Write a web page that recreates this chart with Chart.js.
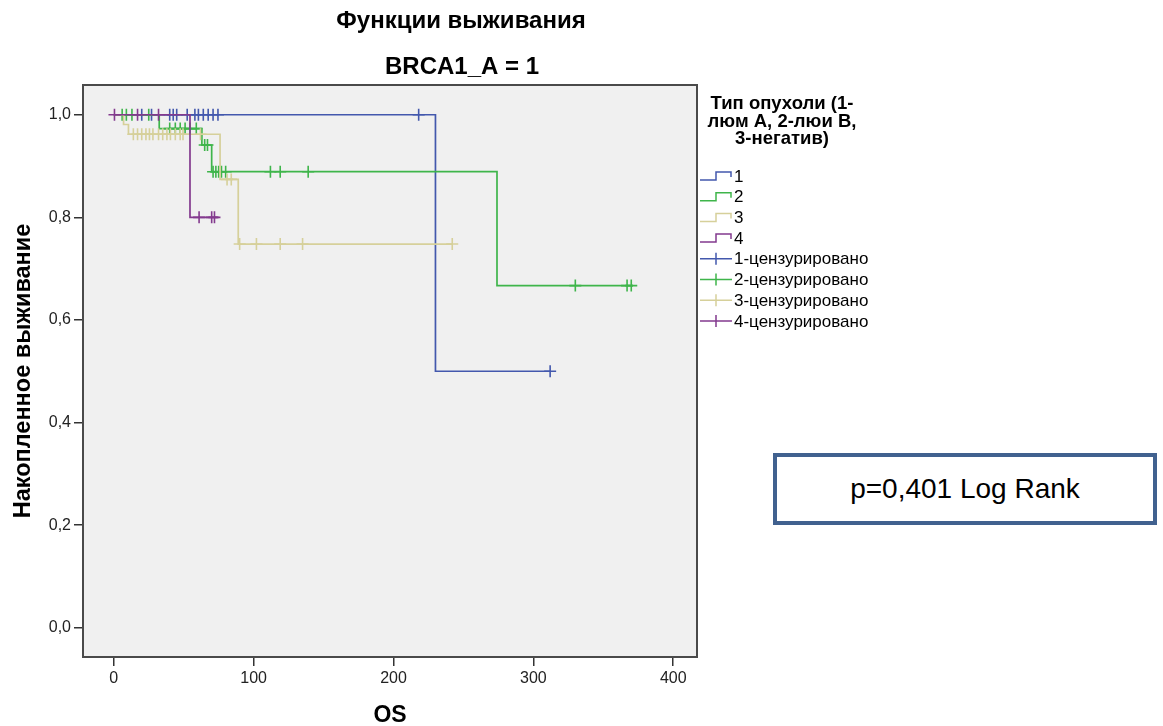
<!DOCTYPE html>
<html>
<head>
<meta charset="utf-8">
<script src="https://cdn.jsdelivr.net/npm/chart.js@4.4.0/dist/chart.umd.min.js"></script>
<style>
  body { margin: 0; background: #fff; }
  #wrap { position: relative; width: 1163px; height: 726px; }
  #pbox {
    position: absolute; left: 773px; top: 453px; width: 376px; height: 64px;
    border: 4px solid #41618f; background: #fff;
    font: 28px "Liberation Sans", Arial, sans-serif; color: #000;
    display: flex; align-items: center; justify-content: center;
  }
</style>
</head>
<body>
<div id="wrap">
  <canvas id="km" width="1163" height="726"></canvas>
  <div id="pbox">p=0,401 Log Rank</div>
</div>
<script>
const FONT = '"Liberation Sans", Arial, sans-serif';

// axis ticks
const xTicks = [0, 100, 200, 300, 400];
const yTicks = [0, 0.2, 0.4, 0.6, 0.8, 1.0];

// group names
const groups = ['1', '2', '3', '4'];
const colors = ['#4358ad', '#3fb54b', '#d6d09a', '#833a8e'];

// Kaplan-Meier steps: event times and survival after each event, plus last follow-up
const g1Events = [230];
const g1Surv = [0.5];
const g1Last = 312;
const g1Censor = [20, 27, 40, 42.5, 45, 52.5, 58, 60.5, 64, 67.5, 71, 74.5, 218, 312];

const g2Events = [32.5, 63, 70, 274];
const g2Surv = [0.973, 0.941, 0.889, 0.667];
const g2Last = 371;
const g2Censor = [6, 9, 13, 25, 40, 44, 47.5, 51, 54.5, 59, 65, 67, 71, 73, 75, 77, 80, 112, 119, 139, 330, 367, 370];

const g3Events = [7, 10.5, 76, 89];
const g3Surv = [0.981, 0.962, 0.874, 0.748];
const g3Last = 242;
const g3Censor = [14, 17, 20, 23, 25.5, 28, 32, 35, 38, 40.5, 44, 47.5, 49.5, 62, 81, 84, 90, 102, 119, 135, 242];

const g4Events = [54.5];
const g4Surv = [0.8];
const g4Last = 75;
const g4Censor = [0.5, 17, 32, 61, 70, 72];

function stepPoints(events, surv, last) {
  const pts = [{x: 0, y: 1}];
  events.forEach((t, i) => pts.push({x: t, y: surv[i]}));
  pts.push({x: last, y: surv[surv.length - 1]});
  return pts;
}

function survivalAt(events, surv, t) {
  let s = 1;
  events.forEach((e, i) => { if (e <= t) s = surv[i]; });
  return s;
}

function censorPoints(events, surv, times) {
  return times.map(t => ({x: t, y: survivalAt(events, surv, t)}));
}

const curves = [
  stepPoints(g1Events, g1Surv, g1Last),
  stepPoints(g2Events, g2Surv, g2Last),
  stepPoints(g3Events, g3Surv, g3Last),
  stepPoints(g4Events, g4Surv, g4Last)
];
const censors = [
  censorPoints(g1Events, g1Surv, g1Censor),
  censorPoints(g2Events, g2Surv, g2Censor),
  censorPoints(g3Events, g3Surv, g3Censor),
  censorPoints(g4Events, g4Surv, g4Censor)
];

const datasets = [];
groups.forEach((g, i) => {
  datasets.push({
    type: 'line', label: g, data: curves[i], stepped: true,
    borderColor: colors[i], borderWidth: 1.7, pointRadius: 0, fill: false,
    order: 10 - i * 2
  });
  datasets.push({
    type: 'scatter', label: g + '-цензурировано', data: censors[i],
    pointStyle: 'cross', pointRadius: 6, borderColor: colors[i], borderWidth: 1.6,
    backgroundColor: colors[i], order: 9 - i * 2
  });
});

// grey plot frame
const frame = {
  id: 'frame',
  beforeDraw(chart) {
    const {ctx, chartArea: a} = chart;
    ctx.save();
    ctx.fillStyle = '#f0f0f0';
    ctx.fillRect(a.left, a.top, a.right - a.left, a.bottom - a.top);
    ctx.restore();
  },
  afterDraw(chart) {
    const {ctx, chartArea: a} = chart;
    ctx.save();
    ctx.strokeStyle = '#4a4a4a';
    ctx.lineWidth = 2;
    ctx.strokeRect(a.left, a.top, a.right - a.left, a.bottom - a.top);
    ctx.restore();
  }
};

// headings above the plot
const headings = {
  id: 'headings',
  afterDraw(chart) {
    const ctx = chart.ctx;
    ctx.save();
    ctx.fillStyle = '#000';
    ctx.textAlign = 'center';
    ctx.textBaseline = 'middle';
    ctx.font = 'bold 24px ' + FONT;
    ctx.fillText('Функции выживания', 461, 21);
    ctx.fillText('BRCA1_A = 1', 462, 67);
    ctx.restore();
  }
};

// legend with step and censor symbols
const kmLegend = {
  id: 'kmLegend',
  afterDraw(chart) {
    const ctx = chart.ctx;
    ctx.save();
    ctx.fillStyle = '#000';
    ctx.textAlign = 'center';
    ctx.textBaseline = 'middle';
    ctx.font = 'bold 18.5px ' + FONT;
    ['Тип опухоли (1-', 'люм А, 2-люи В,', '3-негатив)'].forEach((line, i) => {
      ctx.fillText(line, 782, 104 + i * 17.7);
    });
    ctx.font = '17px ' + FONT;
    ctx.textAlign = 'left';
    const x0 = 700;
    chart.data.datasets
      .map((d, i) => ({d, i}))
      .sort((a, b) => (a.d.type === 'line' ? 0 : 1) - (b.d.type === 'line' ? 0 : 1) || a.i - b.i)
      .forEach(({d}, k) => {
        const y = 176 + k * 20.7;
        ctx.strokeStyle = d.borderColor;
        ctx.lineWidth = 1.5;
        ctx.beginPath();
        if (d.type === 'line') {
          ctx.moveTo(x0, y + 4);
          ctx.lineTo(x0 + 16, y + 4);
          ctx.lineTo(x0 + 16, y - 4);
          ctx.lineTo(x0 + 31, y - 4);
          ctx.lineTo(x0 + 31, y + 1);
        } else {
          ctx.moveTo(x0, y);
          ctx.lineTo(x0 + 32, y);
          ctx.moveTo(x0 + 16, y - 6);
          ctx.lineTo(x0 + 16, y + 6);
        }
        ctx.stroke();
        ctx.fillStyle = '#000';
        ctx.fillText(d.label, x0 + 34, y + 1);
      });
    ctx.restore();
  }
};

new Chart(document.getElementById('km'), {
  data: {datasets},
  options: {
    responsive: false,
    animation: false,
    layout: {padding: {top: 85, right: 466, bottom: 0, left: 0}},
    plugins: {legend: {display: false}, tooltip: {enabled: false}},
    scales: {
      x: {
        type: 'linear', min: -22, max: 417,
        afterBuildTicks: s => { s.ticks = xTicks.map(v => ({value: v})); },
        afterFit: s => { s.height = 69; },
        ticks: {font: {family: FONT, size: 16}, color: '#222', padding: 3, maxRotation: 0},
        grid: {drawOnChartArea: false, drawTicks: true, tickLength: 9, color: '#333', lineWidth: 1.5},
        border: {display: false},
        title: {display: true, text: 'OS', color: '#000', font: {family: FONT, size: 23, weight: 'bold', lineHeight: 0.9}, padding: {top: 0, bottom: 0}}
      },
      y: {
        type: 'linear', min: -0.057, max: 1.058,
        afterBuildTicks: s => { s.ticks = yTicks.map(v => ({value: v})); },
        afterFit: s => { s.width = 83; },
        ticks: {font: {family: FONT, size: 16}, color: '#222', padding: 3, callback: v => v.toFixed(1).replace('.', ',')},
        grid: {drawOnChartArea: false, drawTicks: true, tickLength: 9, color: '#333', lineWidth: 1.5},
        border: {display: false},
        title: {display: true, text: 'Накопленное выживание', color: '#000', font: {family: FONT, size: 23.5, weight: 'bold'}, padding: {top: 9, bottom: 0}}
      }
    }
  },
  plugins: [frame, headings, kmLegend]
});
</script>
</body>
</html>
